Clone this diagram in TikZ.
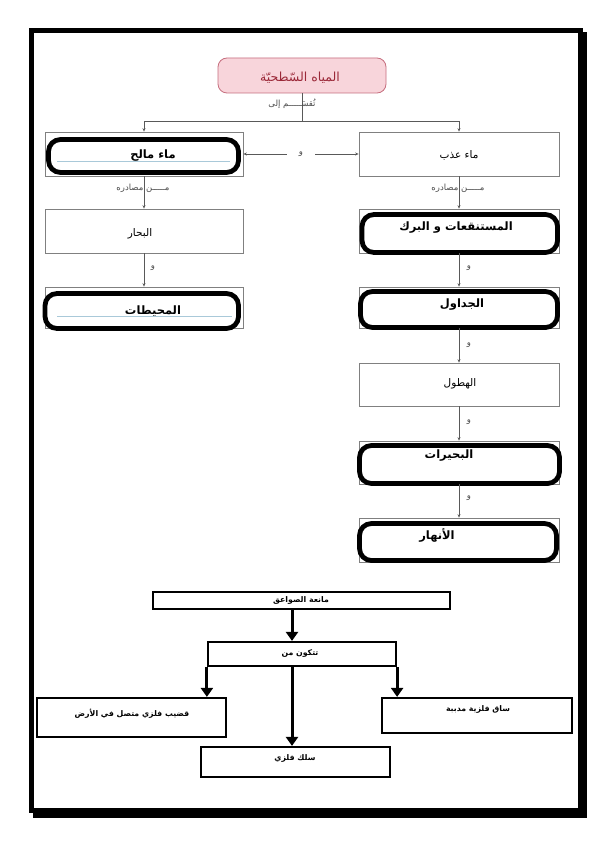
\documentclass[tikz,border=0pt]{standalone}
\usepackage{fontspec}
\usetikzlibrary{arrows.meta,calc}
\TeXXeTstate=1
\newfontfamily\arabicfont[Script=Arabic]{DejaVu Sans}
\definecolor{pinkfill}{HTML}{F8D5DB}
\definecolor{pinkdraw}{HTML}{C66E7E}
\definecolor{maroontxt}{HTML}{9B2838}
\definecolor{boxgray}{HTML}{808080}
\definecolor{lineblue}{HTML}{A9C9D9}
\newcommand{\artxt}[1]{\beginR #1\endR}
\begin{document}
\begin{tikzpicture}[x=1pt,y=-1pt,
  tbox/.style={draw=boxgray, line width=0.7pt, inner sep=0pt, fill=white},
  blob/.style={draw=black, line width=4.8pt, rounded corners=12pt},
  normtxt/.style={font=\arabicfont\fontsize{10.5}{12}\selectfont, inner sep=0pt},
  boldtxt/.style={font=\arabicfont\bfseries\fontsize{11.5}{13}\selectfont, inner sep=0pt},
  lbl/.style={font=\arabicfont\fontsize{8.5}{10}\selectfont, text=black!70, inner sep=1pt},
  tline/.style={draw=black!65, line width=0.6pt},
  tarrow/.style={tline, -{Stealth[length=3.5pt,width=3pt]}},
  bbox/.style={draw=black, line width=2.2pt, inner sep=0pt, fill=white},
  barrow/.style={draw=black, line width=3pt, -{Triangle[length=9pt,width=12pt]}},
  btxt/.style={font=\arabicfont\bfseries\fontsize{7.8}{9}\selectfont, inner sep=0pt}
]
% page and frame
\fill[white] (0,0) rectangle (612,842);
\fill[black] (29,28) rectangle (583,813);
\fill[white] (34,33) rectangle (578,808);
\fill[black] (578,32) rectangle (587,818);
\fill[black] (33,808) rectangle (587,818);

% ---------- top diagram ----------
\node[draw=pinkdraw, fill=pinkfill, line width=0.8pt, rounded corners=9pt,
      minimum width=168pt, minimum height=35pt, inner sep=0pt] (t) at (302,75.5) {};
\node[font=\arabicfont\fontsize{12.5}{14}\selectfont, text=maroontxt, inner sep=0pt] (tt) at (300,78) {\artxt{المياه السّطحيّة}};

% left column boxes
\node[tbox, minimum width=198pt, minimum height=44pt] (a1) at (144,154) {};
\node[tbox, minimum width=198pt, minimum height=44pt] (a2) at (144,231) {};
\node[tbox, minimum width=198pt, minimum height=41pt] (a3) at (144,307.5) {};
% right column boxes
\node[tbox, minimum width=200pt, minimum height=44pt] (b1) at (459,154) {};
\node[tbox, minimum width=200pt, minimum height=44pt] (b2) at (459,231) {};
\node[tbox, minimum width=200pt, minimum height=41pt] (b3) at (459,307.5) {};
\node[tbox, minimum width=200pt, minimum height=43pt] (b4) at (459,384.5) {};
\node[tbox, minimum width=200pt, minimum height=43pt] (b5) at (459,462.5) {};
\node[tbox, minimum width=200pt, minimum height=44pt] (b6) at (459,540) {};

% thick hand-drawn outlines
\draw[blob] (48.5,139.5) rectangle (238.5,172.5);
\draw[blob] (45,293.5) rectangle (238.5,328.5);
\draw[blob] (362,214.5) rectangle (557.5,252.5);
\draw[blob] (360.5,291.5) rectangle (557.5,327.5);
\draw[blob] (359.5,445.5) rectangle (559.5,483.5);
\draw[blob] (359.5,523.5) rectangle (556.5,560.5);

% blue underlines
\draw[lineblue, line width=0.8pt] (57,161) -- (230,161);
\draw[lineblue, line width=0.8pt] (57,316) -- (232,316);

% box texts
\node[boldtxt] (a1t) at (153,156) {\artxt{ماء مالح}};
\node[normtxt] (a2t) at (140,234) {\artxt{البحار}};
\node[boldtxt] (a3t) at (153,311) {\artxt{المحيطات}};
\node[normtxt] (b1t) at (459,155) {\artxt{ماء عذب}};
\node[boldtxt] (b2t) at (456,228) {\artxt{المستنقعات و البرك}};
\node[boldtxt] (b3t) at (462,305) {\artxt{الجداول}};
\node[normtxt] (b4t) at (460,384) {\artxt{الهطول}};
\node[boldtxt] (b5t) at (449,456) {\artxt{البحيرات}};
\node[boldtxt] (b6t) at (437,535) {\artxt{الأنهار}};

% connectors top
\coordinate (split) at (302,121);
\draw[tline] (t.south) -- (split);
\draw[tarrow] (split) -| (a1.north);
\draw[tarrow] (split) -| (b1.north);
\node[lbl] (divl) at (292,104) {\artxt{تُقسَـــــم إلى}};

\draw[tline, {Stealth[length=3.5pt,width=3pt]}-{Stealth[length=3.5pt,width=3pt]}] (a1.east) -- (b1.west)
  node[lbl, midway, fill=white, inner xsep=12pt] (wmid) {\artxt{و}};

\draw[tarrow] (a1.south) -- (a2.north);
\node[lbl] (srcl) at (143,188) {\artxt{مـــــن مصادره}};
\draw[tarrow] (a2.south) -- (a3.north);
\node[lbl] (wl1) at (153,268) {\artxt{و}};

\draw[tarrow] (b1.south) -- (b2.north);
\node[lbl] (srcr) at (458,188) {\artxt{مـــــن مصادره}};
\draw[tarrow] (b2.south) -- (b3.north);
\node[lbl] (wr1) at (469,268) {\artxt{و}};
\draw[tarrow] (b3.south) -- (b4.north);
\node[lbl] (wr2) at (469,345) {\artxt{و}};
\draw[tarrow] (b4.south) -- (b5.north);
\node[lbl] (wr3) at (469,422) {\artxt{و}};
\draw[tarrow] (b5.south) -- (b6.north);
\node[lbl] (wr4) at (469,498) {\artxt{و}};

% ---------- bottom diagram ----------
\node[bbox, minimum width=297pt, minimum height=17pt] (m1) at (301.5,600.5) {};
\node[bbox, minimum width=188pt, minimum height=24pt] (m2) at (302,654) {};
\node[bbox, minimum width=189pt, minimum height=39pt] (m3) at (131.5,717.5) {};
\node[bbox, minimum width=190pt, minimum height=35pt] (m4) at (477,715.5) {};
\node[bbox, minimum width=189pt, minimum height=30pt] (m5) at (295.5,762) {};

\node[btxt] (m1t) at (301,600) {\artxt{مانعة الصواعق}};
\node[btxt] (m2t) at (300,653) {\artxt{تتكون من}};
\node[btxt] (m3t) at (132,714) {\artxt{قضيب فلزي متصل في الأرض}};
\node[btxt] (m4t) at (478,709) {\artxt{ساق فلزية مدببة}};
\node[btxt] (m5t) at (295,758) {\artxt{سلك فلزي}};

\coordinate (ax) at (292,700);
\draw[barrow] (m1.south -| ax) -- (m2.north -| ax);
\draw[barrow] (m2.south -| ax) -- (m5.north -| ax);
\draw[barrow] (m2.south west) -- (m3.north -| m2.south west);
\draw[barrow] (m2.south east) -- (m4.north -| m2.south east);
\end{tikzpicture}
\end{document}
